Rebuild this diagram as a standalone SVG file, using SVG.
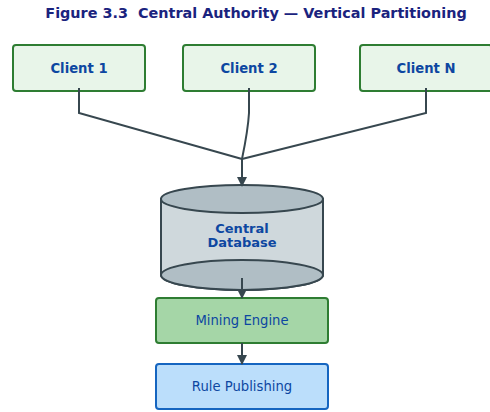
<svg xmlns="http://www.w3.org/2000/svg" width="490" height="412" viewBox="0 0 490 412">
<defs>
<style>
.title{font-family:"DejaVu Sans",sans-serif;font-weight:bold;font-size:14.4px;fill:#1a237e}
.client rect{fill:#e8f5e9;stroke:#2e7d32;stroke-width:2}
.lbl{font-family:"DejaVu Sans",sans-serif;font-size:13.2px;fill:#0d47a1;text-anchor:middle}
.b{font-weight:bold}
.conn{fill:none;stroke:#37474f;stroke-width:2}
</style>
<marker id="ah" viewBox="0 0 10 10" refX="9" refY="5" markerWidth="5" markerHeight="5" orient="auto"><path d="M0,0 L10,5 L0,10 z" fill="#37474f"/></marker>
</defs>
<rect width="490" height="412" fill="#ffffff"/>
<text class="title" x="256" y="18" text-anchor="middle" xml:space="preserve">Figure 3.3  Central Authority — Vertical Partitioning</text>
<g id="client1" class="client"><rect x="13" y="45" width="132" height="46" rx="3"/><text class="lbl b" x="79" y="73">Client 1</text></g>
<g id="client2" class="client"><rect x="183" y="45" width="132" height="46" rx="3"/><text class="lbl b" x="249" y="73">Client 2</text></g>
<g id="clientN" class="client"><rect x="360" y="45" width="132" height="46" rx="3"/><text class="lbl b" x="426" y="73">Client N</text></g>
<g id="db">
<path d="M161,199 L161,275 A81,15 0 0 0 323,275 L323,199 Z" fill="#cfd8dc" stroke="#37474f" stroke-width="2"/>
<ellipse cx="242" cy="275" rx="81" ry="15" fill="#b0bec5" stroke="#37474f" stroke-width="2"/>
<ellipse cx="242" cy="199" rx="81" ry="14" fill="#b0bec5" stroke="#37474f" stroke-width="2"/>
<text class="lbl b" x="242" y="232.5" style="font-size:13px">Central</text>
<text class="lbl b" x="242" y="246.5" style="font-size:13px">Database</text>
</g>
<g id="mining"><rect x="156" y="298" width="172" height="45" rx="3" fill="#a5d6a7" stroke="#2e7d32" stroke-width="2"/><text class="lbl" x="242" y="325">Mining Engine</text></g>
<g id="publish"><rect x="156" y="364" width="172" height="45" rx="3" fill="#bbdefb" stroke="#1565c0" stroke-width="2"/><text class="lbl" x="242" y="391">Rule Publishing</text></g>
<g id="connectors">
<path class="conn" d="M79,88 L79,113 L242,159"/>
<path class="conn" d="M249,88 L249,113 Q248,130 242,159"/>
<path class="conn" d="M426,88 L426,113 L242,159"/>
<path class="conn" d="M242,159 L242,186" marker-end="url(#ah)"/>
<path class="conn" d="M242,278 L242,298" marker-end="url(#ah)"/>
<path class="conn" d="M242,343 L242,364" marker-end="url(#ah)"/>
</g>
</svg>
